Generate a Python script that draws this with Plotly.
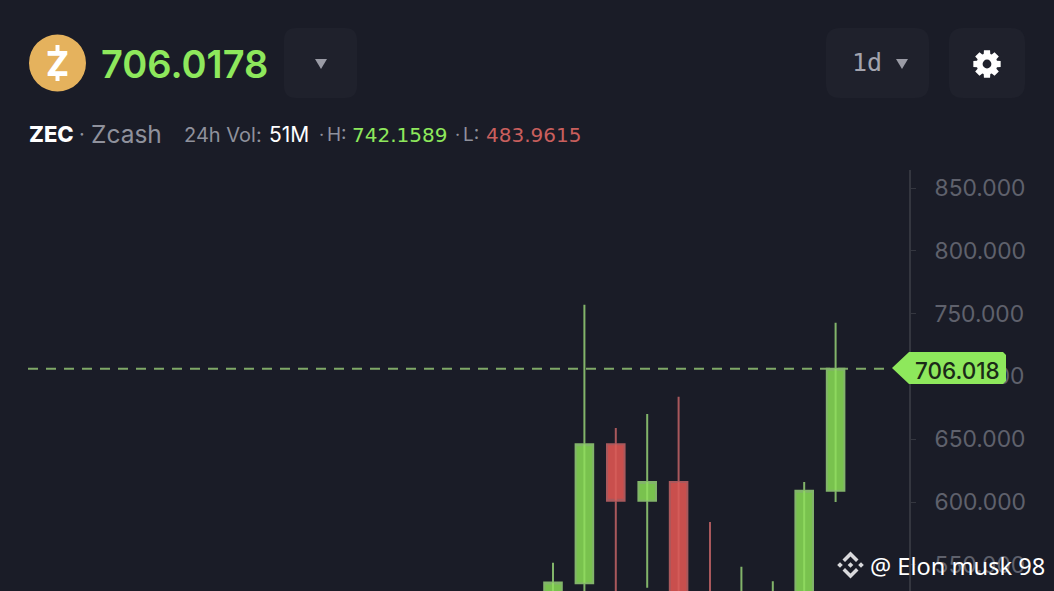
import math
import plotly.graph_objects as go

# Data
days = [0, 1, 2, 3, 4, 5, 6, 7, 8, 9]
opens = [505, 535.3, 646, 601, 616, 520, 500, 505, 510, 609]
closes = [536, 646, 601, 616, 510, 480, 520, 525, 609, 706.018]
highs = [551.7, 757, 659, 670, 683.8, 584, 548.5, 537, 615.9, 742.7]
lows = [480, 510, 520, 531.8, 490, 470, 490, 495, 500, 600]
y_ticks = [550, 600, 650, 700, 750, 800, 850]
y_labels = ["550.000", "600.000", "650.000", "700.000", "750.000", "800.000", "850.000"]
last_price = 706.018

BG = "#1a1c27"
BTN = "#1f212c"
GREEN = "#8ee85c"
BODY_G = "#79c24e"
WICK_G = "#82b46a"
BODY_R = "#c94f4d"
WICK_R = "#a9585c"
GREY = "#8f919c"
AXIS = "#34363f"
TICK = "#5f616c"
FONT = "Inter"

L, R, T, B = 0, 909, 170, 591
def px(x): return (x - L) / (R - L)
def py(y): return (B - y) / (B - T)

def rrect(x0, y0, x1, y1, r):
    return (f"M{px(x0+r)},{py(y0)} L{px(x1-r)},{py(y0)} Q{px(x1)},{py(y0)} {px(x1)},{py(y0+r)} "
            f"L{px(x1)},{py(y1-r)} Q{px(x1)},{py(y1)} {px(x1-r)},{py(y1)} L{px(x0+r)},{py(y1)} "
            f"Q{px(x0)},{py(y1)} {px(x0)},{py(y1-r)} L{px(x0)},{py(y0+r)} Q{px(x0)},{py(y0)} {px(x0+r)},{py(y0)} Z")

def poly(pts):
    return "M" + " L".join(f"{px(a)},{py(b)}" for a, b in pts) + " Z"

shapes = []
def add_path(path, fill, layer="above"):
    shapes.append(dict(type="path", xref="paper", yref="paper", path=path, fillcolor=fill,
                       line=dict(width=0), layer=layer))

def add_circle(cx, cy, r, fill):
    shapes.append(dict(type="circle", xref="paper", yref="paper", x0=px(cx-r), x1=px(cx+r),
                       y0=py(cy+r), y1=py(cy-r), fillcolor=fill, line=dict(width=0)))

# header widgets
add_circle(57.5, 63, 28.5, "#e5b25d")
add_path(rrect(284, 28, 357, 98, 12), BTN)
add_path(rrect(826, 28, 929, 98, 14), BTN)
add_path(rrect(949, 28, 1025, 98, 14), BTN)
add_path(poly([(315, 59), (327, 59), (321, 69)]), "#9a9ba5")
add_path(poly([(896, 59), (908, 59), (902, 69)]), "#9a9ba5")

# gear icon
gear = []
cx, cy = 987, 64
for i in range(8):
    a = i * math.pi / 4 - math.pi / 2
    for d, rad in ((-0.22, 14), (0.22, 14), (0.32, 10.5), (math.pi / 4 - 0.32, 10.5)):
        gear.append((cx + rad * math.cos(a + d), cy + rad * math.sin(a + d)))
add_path(poly(gear), "#ffffff")
add_circle(cx, cy, 4.4, BTN)

# logo Z serifs
add_path(poly([(55.5, 45), (59.5, 45), (59.5, 52), (55.5, 52)]), "#ffffff")
add_path(poly([(55.5, 74), (59.5, 74), (59.5, 81), (55.5, 81)]), "#ffffff")

# last price dashed line
shapes.append(dict(type="line", xref="paper", yref="y", x0=px(28), x1=px(890), y0=last_price, y1=last_price,
                   line=dict(color="#7fa867", width=2, dash="10px,8px"), layer="below"))

# price tag
add_path(poly([(892, 368), (909, 352), (1003, 352), (1006, 355), (1006, 381), (1003, 384), (909, 384)]), GREEN)

# Binance mark
def diamond(cx, cy, r): return poly([(cx, cy-r), (cx+r, cy), (cx, cy+r), (cx-r, cy)])
c = (850.5, 565)
add_path(poly([(c[0], c[1]-13.5), (c[0]+8, c[1]-5.5), (c[0]+5.5, c[1]-3), (c[0], c[1]-8.5), (c[0]-5.5, c[1]-3), (c[0]-8, c[1]-5.5)]), "#d9d9dc")
add_path(poly([(c[0], c[1]+13.5), (c[0]+8, c[1]+5.5), (c[0]+5.5, c[1]+3), (c[0], c[1]+8.5), (c[0]-5.5, c[1]+3), (c[0]-8, c[1]+5.5)]), "#d9d9dc")
add_path(diamond(c[0]-10.5, c[1], 2.8), "#d9d9dc")
add_path(diamond(c[0]+10.5, c[1], 2.8), "#d9d9dc")
add_path(diamond(c[0], c[1], 2.8), "#d9d9dc")

def note(x, y, text, size, color, weight=400, family=FONT, anchor="left"):
    return dict(xref="paper", yref="paper", x=px(x), y=py(y), text=text, showarrow=False,
                xanchor=anchor, yanchor="middle", borderpad=0,
                font=dict(size=size, color=color, family=family, weight=weight))

annotations = [
    note(57.5, 63, "Z", 34, "#ffffff", 800, anchor="center"),
    note(100, 64, "706.0178", 38, GREEN, 600),
    note(851, 62, "1d", 25, "#a3a4ae", 400, family="DejaVu Sans Mono"),
    note(28, 134, "ZEC", 22, "#ffffff", 800),
    note(78, 134, "·", 20, GREY),
    note(90, 134, "Zcash", 24.5, GREY),
    note(183, 135, "24h Vol:", 20, GREY),
    note(268, 135, "51M", 21, "#ffffff"),
    note(318, 135, "·", 18, GREY),
    note(326, 135, "H:", 19, GREY),
    note(351, 135, "742.1589", 20, GREEN, family="DejaVu Sans"),
    note(454, 135, "·", 18, GREY),
    note(462, 135, "L:", 19, GREY),
    note(485, 135, "483.9615", 20, "#c95f5d", family="DejaVu Sans"),
    note(1001, 370, "706.018", 22.5, "#1b2a18", 500, anchor="right"),
    note(869, 566, "@ Elon musk 98", 23.6, "#ffffff", 400, family="Noto Sans"),
]

fig = go.Figure()
fig.add_trace(go.Candlestick(
    x=days, open=opens, high=highs, low=lows, close=closes, whiskerwidth=0,
    increasing=dict(fillcolor=BODY_G, line=dict(color=WICK_G, width=2)),
    decreasing=dict(fillcolor=BODY_R, line=dict(color=WICK_R, width=2)),
    showlegend=False, hoverinfo="skip",
))

# brighter centre streak through each body
for rising, colour in ((True, "#8ed85f"), (False, "#d45c59")):
    xs, ys = [], []
    for d, o, cl in zip(days, opens, closes):
        if (cl > o) == rising:
            xs += [d, d, None]
            ys += [o, cl, None]
    fig.add_trace(go.Scatter(x=xs, y=ys, mode="lines", line=dict(color=colour, width=2),
                             showlegend=False, hoverinfo="skip"))

x0_val = (L - 553) / 31.4
x1_val = (R - 553) / 31.4
fig.update_layout(
    width=1054, height=591, autosize=False,
    margin=dict(l=L, r=1054 - R, t=T, b=591 - B, pad=0),
    paper_bgcolor=BG, plot_bgcolor=BG,
    boxgap=0.2,
    shapes=shapes, annotations=annotations,
    xaxis=dict(visible=False, range=[x0_val, x1_val], rangeslider=dict(visible=False), fixedrange=True),
    yaxis=dict(side="right", range=[850 - (B - 188) / 1.256, 850 + (188 - T) / 1.256],
               tickvals=y_ticks, ticktext=y_labels, showgrid=False, zeroline=False,
               showline=True, linecolor=AXIS, linewidth=2, ticks="outside", ticklen=5,
               tickcolor=AXIS, tickwidth=1, ticklabelstandoff=14,
               tickfont=dict(size=22.8, color=TICK, family=FONT), fixedrange=True),
)
fig.write_html("out.html", config=dict(displayModeBar=False),
               post_script="document.body.style.margin='0';document.body.style.background='" + BG + "';")
